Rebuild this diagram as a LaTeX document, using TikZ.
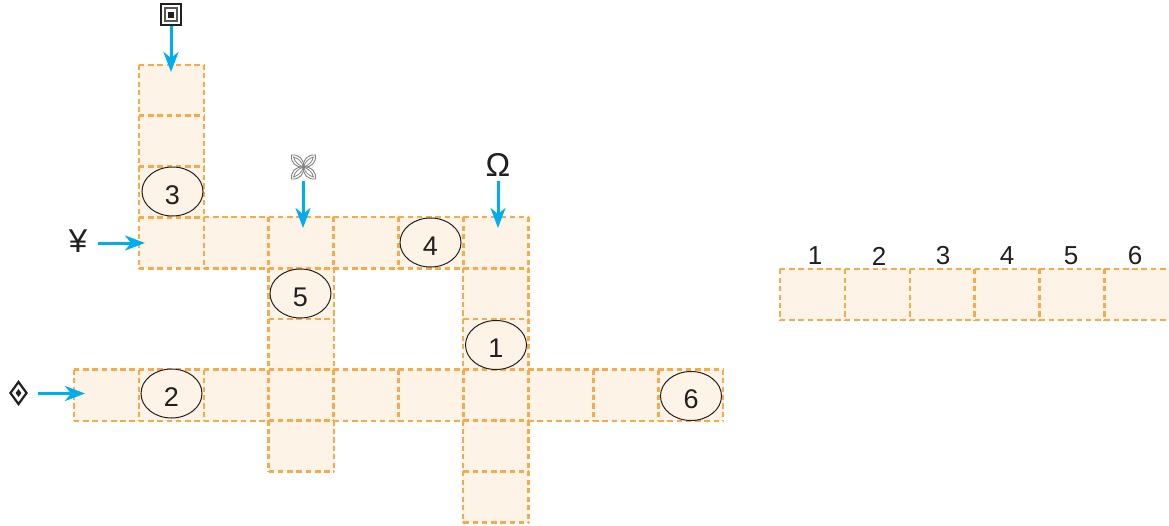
\documentclass[tikz,border=0pt]{standalone}
\usepackage{fontspec}
\setmainfont{Liberation Sans}
\usetikzlibrary{arrows.meta,shapes.geometric}
\definecolor{cellfill}{HTML}{FDF3E7}
\definecolor{celldash}{HTML}{F9A94A}
\definecolor{arrowblue}{HTML}{00AEEF}
\definecolor{inkgray}{HTML}{231F20}
\tikzset{
    cellbox/.style={rectangle, fill=cellfill, minimum width=64.9pt, minimum height=50.8pt, inner sep=0pt},
    edgeh/.style={celldash, line width=2.3pt, dash pattern=on 5.6pt off 3.67pt},
    edgev/.style={celldash, line width=2.3pt, dash pattern=on 5.2pt off 3.27pt},
    numoval/.style={ellipse, draw=inkgray, fill=cellfill, line width=1pt, minimum width=61pt, minimum height=49pt, inner sep=0pt, text=inkgray, font=\fontsize{27}{29}\selectfont, text height=25pt, text depth=0pt},
    toplabel/.style={text=inkgray, inner sep=0pt, font=\fontsize{26}{28}\selectfont},
    biglabel/.style={text=inkgray, inner sep=0pt, font=\fontsize{33}{35}\selectfont},
    entry/.style={arrowblue, line width=3pt, -{Stealth[length=20pt, width=15pt, inset=6pt]}}
}
\begin{document}
\begin{tikzpicture}[x=1pt, y=-1pt]
    \useasboundingbox (0,0) rectangle (1169,525);
    % the crossing grid
    \foreach \c/\r in {1/0, 1/1, 1/2, 1/3, 2/3, 3/3, 4/3, 5/3, 6/3, 3/4, 3/5, 3/6, 3/7, 6/4, 6/5, 6/6, 6/7, 6/8, 0/6, 1/6, 2/6, 4/6, 5/6, 7/6, 8/6, 9/6} {
            \node[cellbox] (cell\c-\r) at ({106.5+64.9*\c},{90.4+50.8*\r}) {};
        }
    \foreach \c/\r in {1/0, 1/1, 1/2, 1/3, 2/3, 3/3, 4/3, 5/3, 6/3, 3/4, 3/5, 3/6, 3/7, 6/4, 6/5, 6/6, 6/7, 6/8, 0/6, 1/6, 2/6, 4/6, 5/6, 7/6, 8/6, 9/6} {
            \draw[edgeh] (cell\c-\r.north west) -- (cell\c-\r.north east);
            \draw[edgeh] (cell\c-\r.south west) -- (cell\c-\r.south east);
            \draw[edgev] (cell\c-\r.north west) -- (cell\c-\r.south west);
            \draw[edgev] (cell\c-\r.north east) -- (cell\c-\r.south east);
        }
    % the answer row
    \foreach \i in {1,...,6} {
            \node[cellbox] (slot\i) at ({747.6+64.9*\i},294.7) {};
            \node[toplabel] (num\i) at ({751+64*\i},256) {\i};
        }
    \foreach \i in {1,...,6} {
            \draw[edgeh] (slot\i.north west) -- (slot\i.north east);
            \draw[edgeh] (slot\i.south west) -- (slot\i.south east);
            \draw[edgev] (slot\i.north west) -- (slot\i.south west);
            \draw[edgev] (slot\i.north east) -- (slot\i.south east);
        }
    % numbered ovals
    \foreach \n/\x/\y in {3/172.5/191.5, 2/171.5/393.5, 4/430.5/242.5, 5/300.5/293.5, 1/496/345, 6/691/396} {
            \node[numoval] (oval\n) at (\x,\y) {\n};
        }
    % entry symbols
    \node[rectangle, draw=inkgray, line width=2.4pt, minimum size=20.5pt, inner sep=0pt] (target) at (171,14.5) {};
    \node[rectangle, draw=inkgray!75, line width=1.6pt, minimum size=12.5pt, inner sep=0pt] (targetmid) at (target) {};
    \node[rectangle, fill=inkgray, minimum size=6pt, inner sep=0pt] (targetdot) at (target) {};
    \node[diamond, draw=inkgray, line width=2.2pt, minimum width=17pt, minimum height=23pt, inner sep=0pt] (rhomb) at (18.5,393) {};
    \node[diamond, fill=inkgray, minimum width=6pt, minimum height=8pt, inner sep=0pt] (rhombdot) at (rhomb) {};
    \node[biglabel] (yen) at (78,241) {¥};
    \node[biglabel] (omega) at (498,165) {Ω};
    \node[minimum size=26pt, inner sep=0pt] (flower) at (303.5,167) {};
    \foreach \a in {45,135,225,315} {
            \draw[gray, line width=0.9pt, rotate around={\a:(flower)}, shift={(flower)}] (0,0) .. controls (5,-6) and (12,-6) .. (17,0) .. controls (12,6) and (5,6) .. (0,0);
            \draw[gray, line width=0.8pt, rotate around={\a:(flower)}, shift={(flower)}] (0,0) .. controls (5,-2.5) and (10,-2.5) .. (14,0) .. controls (10,2.5) and (5,2.5) .. (0,0);
        }
    % arrows into the grid
    \coordinate (tiptarget) at (171,72);
    \coordinate (tipflower) at (303,228);
    \coordinate (tipomega) at (498,228);
    \coordinate (tipyen) at (145,243);
    \coordinate (tiprhomb) at (85,393.5);
    \coordinate (tailflower) at (303,181);
    \coordinate (tailomega) at (498,181);
    \coordinate (tailyen) at (98,243);
    \coordinate (tailrhomb) at (38,393.5);
    \draw[entry] (target.south) -- (tiptarget);
    \draw[entry] (tailflower) -- (tipflower);
    \draw[entry] (tailomega) -- (tipomega);
    \draw[entry] (tailyen) -- (tipyen);
    \draw[entry] (tailrhomb) -- (tiprhomb);
\end{tikzpicture}
\end{document}
